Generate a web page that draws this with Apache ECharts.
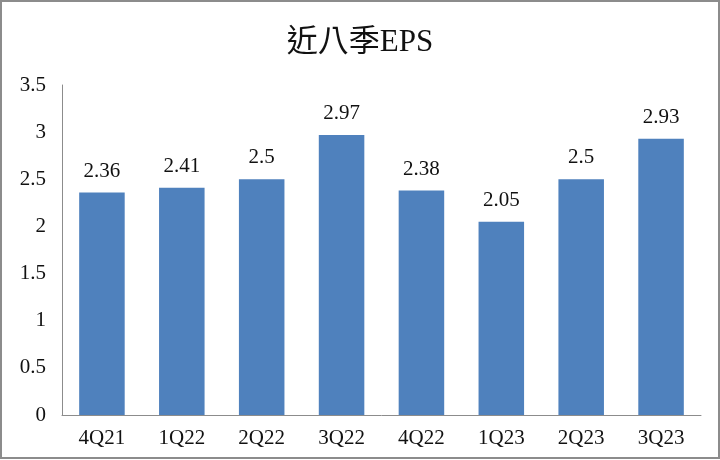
<!DOCTYPE html>
<html><head><meta charset="utf-8">
<script src="https://cdn.jsdelivr.net/npm/echarts@6/dist/echarts.min.js"></script>
<style>
html,body{margin:0;padding:0;background:#fff;}
#wrap{position:absolute;left:0;top:0;width:716px;height:455px;border:2px solid #8c8c8c;background:#fff;}
#c{width:716px;height:455px;}
</style></head>
<body><div id="wrap"><div id="c"></div></div>
<script>
const titleText = '近八季EPS';
const categories = ['4Q21','1Q22','2Q22','3Q22','4Q22','1Q23','2Q23','3Q23'];
const eps = [2.36, 2.41, 2.5, 2.97, 2.38, 2.05, 2.5, 2.93];
const yMin = 0, yMax = 3.5, yStep = 0.5;

const serif = '"Liberation Serif","DejaVu Serif","Noto Sans CJK TC",serif';
const chart = echarts.init(document.getElementById('c'));
chart.setOption({
  animation: false,
  title: {
    text: titleText, left: 'center', top: 20,
    textStyle: {fontFamily: serif, fontSize: 31, fontWeight: 'normal', color: '#111'}
  },
  grid: {left: 60, right: 17, top: 83, bottom: 42},
  xAxis: {
    type: 'category', data: categories,
    axisLine: {lineStyle: {color: '#8c8c8c', width: 1}},
    axisTick: {show: false},
    axisLabel: {fontFamily: serif, fontSize: 21, color: '#111', margin: 13}
  },
  yAxis: {
    type: 'value', min: yMin, max: yMax, interval: yStep,
    axisLine: {show: true, lineStyle: {color: '#8c8c8c', width: 1}},
    axisTick: {show: false},
    splitLine: {show: false},
    axisLabel: {fontFamily: serif, fontSize: 21, color: '#111', margin: 16}
  },
  series: [{
    type: 'bar', data: eps, barWidth: '57%',
    itemStyle: {color: '#4f81bd'},
    label: {show: true, position: 'top', distance: 11, fontFamily: serif, fontSize: 21, color: '#111'}
  }]
});
</script></body></html>
